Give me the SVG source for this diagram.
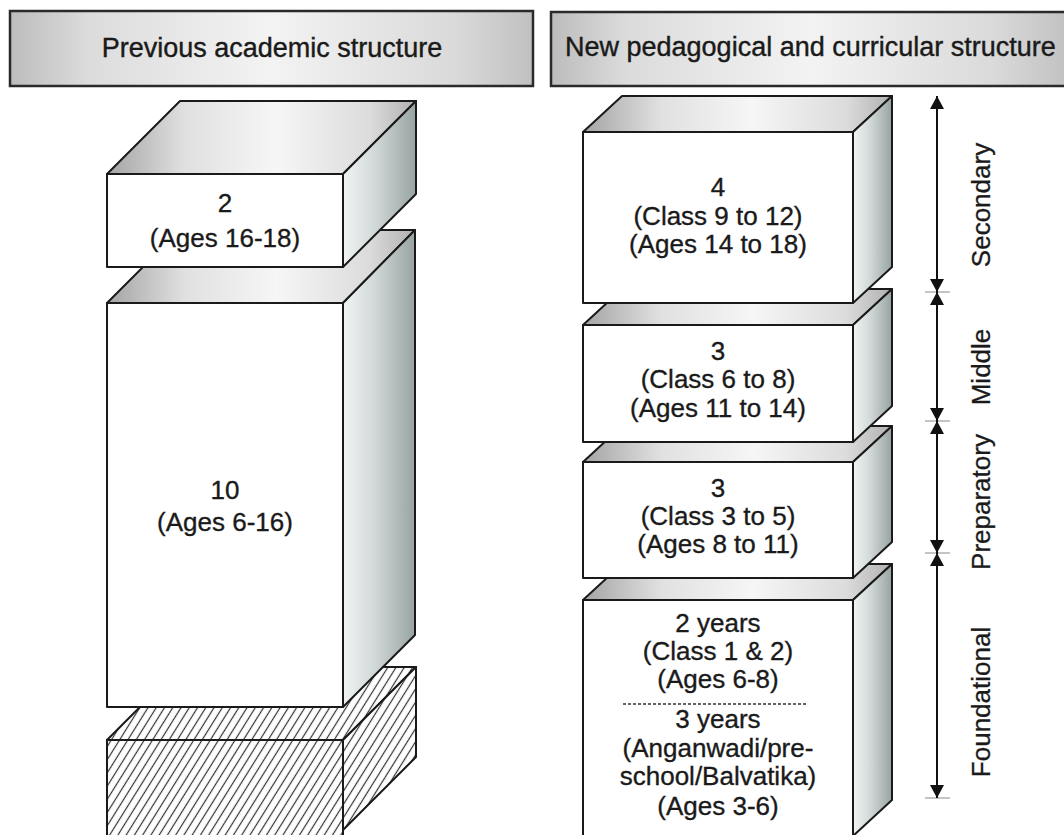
<svg xmlns="http://www.w3.org/2000/svg" width="1064" height="835" viewBox="0 0 1064 835">
<defs>
<style>
.front{fill:#fff;stroke:#1a1a1a;stroke-width:2;stroke-linejoin:round}
.top{fill:url(#gTop);stroke:#1a1a1a;stroke-width:2;stroke-linejoin:round}
.side{fill:url(#gSide);stroke:#1a1a1a;stroke-width:2;stroke-linejoin:round}
.hatch{fill:url(#hatch);stroke:#1a1a1a;stroke-width:2;stroke-linejoin:round}
.head{fill:url(#gHead);stroke:#2a2a2a;stroke-width:2.5}
.t{font-family:"Liberation Sans",Arial,sans-serif;font-size:26px;fill:#1a1a1a;stroke:#1a1a1a;stroke-width:0.35;text-anchor:middle}
.h{font-family:"Liberation Sans",Arial,sans-serif;font-size:27px;fill:#1a1a1a;stroke:#1a1a1a;stroke-width:0.4}
.lab{font-family:"Liberation Sans",Arial,sans-serif;font-size:26px;fill:#1a1a1a;stroke:#1a1a1a;stroke-width:0.3;text-anchor:middle}
.axis{stroke:#111;stroke-width:2;fill:none;marker-start:url(#arr);marker-end:url(#arr)}
.tick{stroke:#b0b0b0;stroke-width:1.5}
</style>
<linearGradient id="gHead" x1="0" y1="0" x2="1" y2="0">
<stop offset="0" stop-color="#bcbcbc"/><stop offset="0.15" stop-color="#dcdcdc"/><stop offset="0.5" stop-color="#f3f3f3"/><stop offset="0.85" stop-color="#dadada"/><stop offset="1" stop-color="#c0c0c0"/>
</linearGradient>
<linearGradient id="gTop" x1="0" y1="0" x2="1" y2="0">
<stop offset="0" stop-color="#a4a4a4"/><stop offset="0.25" stop-color="#e0e0e0"/><stop offset="0.55" stop-color="#f6f6f6"/><stop offset="0.85" stop-color="#dcdcdc"/><stop offset="1" stop-color="#b0b0b0"/>
</linearGradient>
<linearGradient id="gSide" x1="0" y1="0" x2="1" y2="0">
<stop offset="0" stop-color="#f2f4f4"/><stop offset="0.45" stop-color="#d0d8d7"/><stop offset="1" stop-color="#97a3a2"/>
</linearGradient>
<pattern id="hatch" width="7" height="7" patternUnits="userSpaceOnUse" patternTransform="rotate(32)">
<rect width="7" height="7" fill="#fff"/>
<line x1="3.5" y1="0" x2="3.5" y2="7" stroke="#333" stroke-width="1.2"/>
</pattern>
<marker id="arr" viewBox="0 0 13 14" refX="13" refY="7" markerWidth="13" markerHeight="14" markerUnits="userSpaceOnUse" orient="auto-start-reverse">
<path d="M0,0 L13,7 L0,14 z" fill="#111"/>
</marker>
</defs>
<rect width="1064" height="835" fill="#fff"/>

<g id="header-previous">
<rect class="head" x="10" y="11" width="523" height="75"/>
<text class="h" x="272" y="57" text-anchor="middle">Previous academic structure</text>
</g>
<g id="header-new">
<rect class="head" x="551" y="12" width="520" height="74"/>
<text class="h" x="565" y="56">New pedagogical and curricular structure</text>
</g>

<g id="prev-base">
<polygon class="hatch" points="107,740 343,740 416,667 180,667"/>
<polygon class="hatch" points="343,740 416,667 416,757 343,830"/>
<rect class="hatch" x="107" y="740" width="236" height="100"/>
</g>
<g id="prev-10">
<polygon class="top" points="107,303 343,303 415,230 180,230"/>
<polygon class="side" points="343,303 415,230 415,635 343,707"/>
<rect class="front" x="107" y="303" width="236" height="404"/>
<text class="t" x="225" y="499">10</text>
<text class="t" x="225" y="531">(Ages 6-16)</text>
</g>
<g id="prev-2">
<polygon class="top" points="107,174 343,174 416,101 180,101"/>
<polygon class="side" points="343,174 416,101 416,194 343,267"/>
<rect class="front" x="107" y="174" width="236" height="93"/>
<text class="t" x="225" y="212">2</text>
<text class="t" x="225" y="247">(Ages 16-18)</text>
</g>

<g id="new-foundational">
<polygon class="top" points="583,600 853,600 892,564 622,564"/>
<polygon class="side" points="853,600 892,564 892,800 853,836"/>
<rect class="front" x="583" y="600" width="270" height="240"/>
<text class="t" x="718" y="632">2 years</text>
<text class="t" x="718" y="660">(Class 1 &amp; 2)</text>
<text class="t" x="718" y="688">(Ages 6-8)</text>
<line x1="623" y1="704" x2="808" y2="704" stroke="#333" stroke-width="1.5" stroke-dasharray="3 2"/>
<text class="t" x="718" y="728">3 years</text>
<text class="t" x="718" y="757">(Anganwadi/pre-</text>
<text class="t" x="718" y="785">school/Balvatika)</text>
<text class="t" x="718" y="815">(Ages 3-6)</text>
</g>
<g id="new-preparatory">
<polygon class="top" points="583,462 853,462 892,426 622,426"/>
<polygon class="side" points="853,462 892,426 892,542 853,578"/>
<rect class="front" x="583" y="462" width="270" height="116"/>
<text class="t" x="718" y="497">3</text>
<text class="t" x="718" y="525">(Class 3 to 5)</text>
<text class="t" x="718" y="553">(Ages 8 to 11)</text>
</g>
<g id="new-middle">
<polygon class="top" points="583,325 853,325 892,289 622,289"/>
<polygon class="side" points="853,325 892,289 892,406 853,442"/>
<rect class="front" x="583" y="325" width="270" height="117"/>
<text class="t" x="718" y="360">3</text>
<text class="t" x="718" y="388">(Class 6 to 8)</text>
<text class="t" x="718" y="417">(Ages 11 to 14)</text>
</g>
<g id="new-secondary">
<polygon class="top" points="583,132 853,132 892,96 622,96"/>
<polygon class="side" points="853,132 892,96 892,267 853,303"/>
<rect class="front" x="583" y="132" width="270" height="171"/>
<text class="t" x="718" y="196">4</text>
<text class="t" x="718" y="225">(Class 9 to 12)</text>
<text class="t" x="718" y="253">(Ages 14 to 18)</text>
</g>

<g id="connectors">
<line class="tick" x1="925" y1="292" x2="950" y2="292"/>
<line class="tick" x1="925" y1="421" x2="950" y2="421"/>
<line class="tick" x1="925" y1="553" x2="950" y2="553"/>
<line class="tick" x1="925" y1="798" x2="950" y2="798"/>
<line class="axis" x1="937" y1="96" x2="937" y2="292"/>
<line class="axis" x1="937" y1="292" x2="937" y2="421"/>
<line class="axis" x1="937" y1="421" x2="937" y2="553"/>
<line class="axis" x1="937" y1="553" x2="937" y2="798"/>
</g>

<g id="stage-labels">
<text class="lab" transform="translate(990,205) rotate(-90)">Secondary</text>
<text class="lab" transform="translate(990,367) rotate(-90)">Middle</text>
<text class="lab" transform="translate(990,502) rotate(-90)">Preparatory</text>
<text class="lab" transform="translate(990,702) rotate(-90)">Foundational</text>
</g>
</svg>
